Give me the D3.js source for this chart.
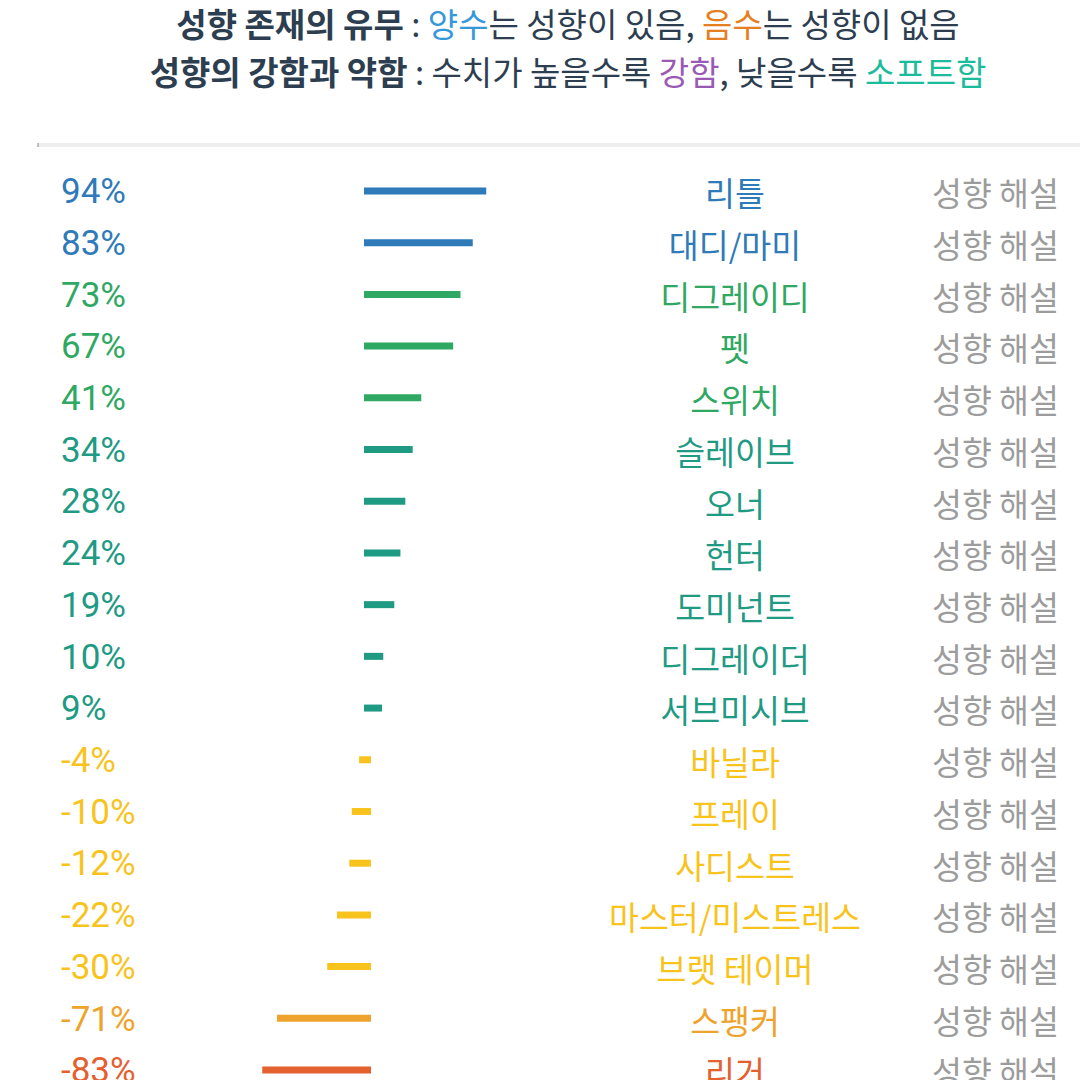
<!DOCTYPE html>
<html>
<head>
<meta charset="utf-8">
<script src="https://cdn.jsdelivr.net/npm/d3@7"></script>
<style>
  html, body { margin: 0; padding: 0; background: #fff; overflow: hidden; }
  text { font-family: "Noto Sans CJK KR", "Noto Sans", sans-serif; }
  .pct { font-family: Roboto, "Noto Sans", sans-serif; }
</style>
</head>
<body>
<svg id="chart"></svg>
<script>
const names = ['리틀', '대디/마미', '디그레이디', '펫', '스위치', '슬레이브', '오너', '헌터', '도미넌트',
  '디그레이더', '서브미시브', '바닐라', '프레이', '사디스트', '마스터/미스트레스', '브랫 테이머', '스팽커', '리거'];
const values = [94, 83, 73, 67, 41, 34, 28, 24, 19, 10, 9, -4, -10, -12, -22, -30, -71, -83];
const linkText = '성향 해설';

// title pieces: [text, colour key]
const titleLine1 = [['성향 존재의 유무', 'head'], [' : ', 'body'], ['양수', 'pos'], ['는 성향이 있음, ', 'body'],
  ['음수', 'neg'], ['는 성향이 없음', 'body']];
const titleLine2 = [['성향의 강함과 약함', 'head'], [' : 수치가 높을수록 ', 'body'], ['강함', 'strong'],
  [', 낮을수록 ', 'body'], ['소프트함', 'soft']];

const width = 1080, height = 1080;
const titleColors = { head: '#2c3e50', body: '#2c3e50', pos: '#3498db', neg: '#e67e22', strong: '#9b59b6', soft: '#1abc9c' };

const svg = d3.select('#chart').attr('width', width).attr('height', height);

// title
[titleLine1, titleLine2].forEach((line, i) => {
  const t = svg.append('text')
    .attr('x', 568)
    .attr('y', 37 + i * 48)
    .attr('text-anchor', 'middle')
    .style('font-size', '33px');
  t.selectAll('tspan')
    .data(line)
    .enter().append('tspan')
    .text(d => d[0])
    .attr('fill', d => titleColors[d[1]])
    .style('font-weight', d => d[1] === 'head' ? 'bold' : 'normal')
    .attr('xml:space', 'preserve');
});

// separator
svg.append('line')
  .attr('x1', 38).attr('x2', width)
  .attr('y1', 145).attr('y2', 145)
  .attr('stroke', '#eeeeee').attr('stroke-width', 4);
svg.append('line')
  .attr('x1', 38).attr('x2', 38)
  .attr('y1', 143).attr('y2', 147)
  .attr('stroke', '#888').attr('stroke-width', 1);

const y = d3.scalePoint().domain(names).range([191, 1070]);
const x = d3.scaleLinear().domain([-100, 100]).range([367.5 - 122.6, 367.5 + 122.6]);
const color = d3.scaleThreshold()
  .domain([-80, -50, 0, 35, 80])
  .range(['#e4602e', '#eea32c', '#f7c31c', '#1f9a83', '#2ea862', '#2f7ab8']);

const rows = svg.append('g').selectAll('g')
  .data(names.map((n, i) => ({ name: n, value: values[i] })))
  .enter().append('g')
  .attr('transform', d => 'translate(0,' + y(d.name) + ')');

rows.append('text')
  .attr('class', 'pct')
  .attr('x', 61)
  .attr('dy', '0.35em')
  .style('font-size', '35px')
  .attr('fill', d => color(d.value))
  .text(d => d.value + '%');

rows.append('line')
  .attr('x1', x(0))
  .attr('x2', d => x(d.value))
  .attr('stroke', d => color(d.value))
  .attr('stroke-width', 7)
  .attr('stroke-linecap', 'square');

rows.append('text')
  .attr('x', 735)
  .attr('y', 4)
  .attr('dy', '0.35em')
  .attr('text-anchor', 'middle')
  .style('font-size', '32.5px')
  .attr('fill', d => color(d.value))
  .text(d => d.name);

rows.append('text')
  .attr('x', 932)
  .attr('y', 4)
  .attr('dy', '0.35em')
  .style('font-size', '32.5px')
  .attr('fill', '#9c9c9c')
  .text(linkText);
</script>
</body>
</html>
